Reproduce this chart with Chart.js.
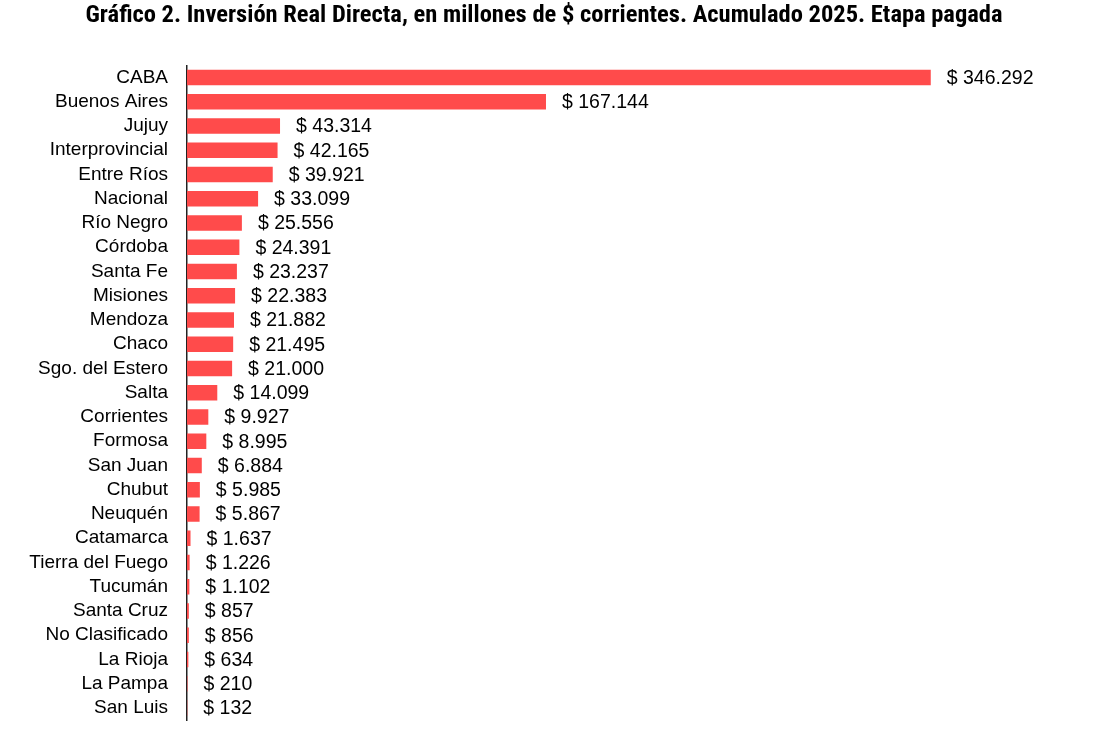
<!DOCTYPE html>
<html>
<head>
<meta charset="utf-8">
<script src="https://cdn.jsdelivr.net/npm/chart.js@4"></script>
<style>
  html, body { margin: 0; padding: 0; background: #fff; }
  #wrap { width: 1112px; height: 748px; }
</style>
</head>
<body>
<div id="wrap"><canvas id="barChart"></canvas></div>
<script>
const provincias = ["CABA","Buenos Aires","Jujuy","Interprovincial","Entre Ríos","Nacional","Río Negro","Córdoba","Santa Fe","Misiones","Mendoza","Chaco","Sgo. del Estero","Salta","Corrientes","Formosa","San Juan","Chubut","Neuquén","Catamarca","Tierra del Fuego","Tucumán","Santa Cruz","No Clasificado","La Rioja","La Pampa","San Luis"];
const montos = [346292,167144,43314,42165,39921,33099,25556,24391,23237,22383,21882,21495,21000,14099,9927,8995,6884,5985,5867,1637,1226,1102,857,856,634,210,132];
const titulo = "Gráfico 2. Inversión Real Directa, en millones de $ corrientes. Acumulado 2025. Etapa pagada";

const fmt = v => "$ " + v.toLocaleString("de-DE");

// etiquetas de valor a la derecha de cada barra
const valueLabels = {
  id: "valueLabels",
  afterDatasetsDraw(chart) {
    const ctx = chart.ctx;
    const meta = chart.getDatasetMeta(0);
    ctx.save();
    ctx.font = "19.5px 'Liberation Sans', Arial, sans-serif";
    ctx.fillStyle = "#000";
    ctx.textAlign = "left";
    ctx.textBaseline = "middle";
    meta.data.forEach((bar, i) => {
      ctx.fillText(fmt(montos[i]), bar.x + 16, bar.y + 1);
    });
    ctx.restore();
  }
};

new Chart(document.getElementById("barChart"), {
  type: "bar",
  data: {
    labels: provincias,
    datasets: [{
      data: montos,
      backgroundColor: "#ff4b4b",
      barPercentage: 0.64,
      categoryPercentage: 1
    }]
  },
  options: {
    indexAxis: "y",
    responsive: true,
    maintainAspectRatio: false,
    animation: false,
    layout: { padding: { left: 0, right: 24, top: 0, bottom: 28 } },
    plugins: {
      legend: { display: false },
      tooltip: { enabled: false },
      title: {
        display: true,
        text: titulo,
        color: "#000",
        font: { family: "'Liberation Sans Narrow', 'Roboto Condensed', Roboto, sans-serif", size: 24.5, weight: "bold" },
        padding: { top: 1, bottom: 35 }
      }
    },
    scales: {
      x: { display: false, min: 0, max: 419500 },
      y: {
        afterFit: s => { s.width = 187; },
        border: { display: true, color: "#222", width: 1.5 },
        grid: { display: false },
        ticks: {
          autoSkip: false,
          color: "#000",
          padding: 11,
          font: { family: "'Liberation Sans', Arial, sans-serif", size: 19 }
        }
      }
    }
  },
  plugins: [valueLabels]
});
</script>
</body>
</html>
